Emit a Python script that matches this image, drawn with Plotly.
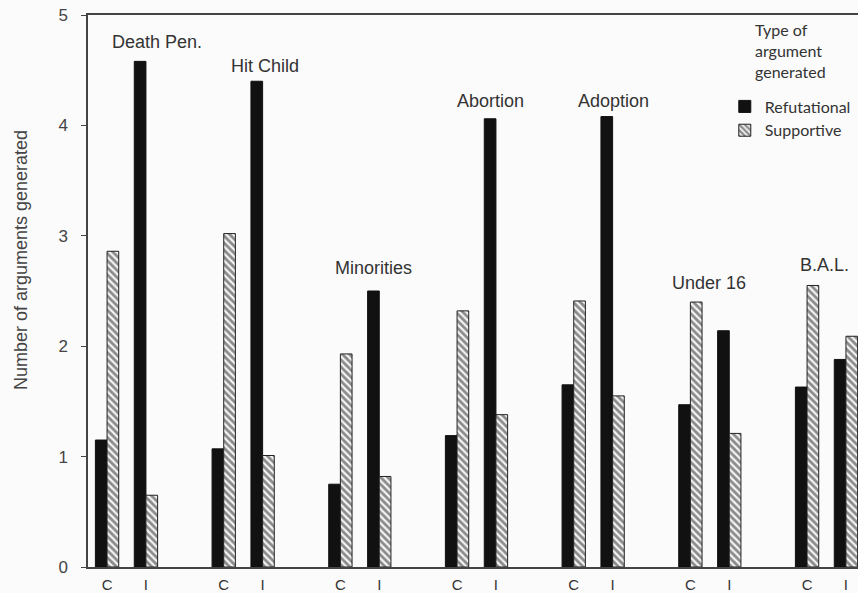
import plotly.graph_objects as go

topics = ["Death Pen.", "Hit Child", "Minorities", "Abortion", "Adoption", "Under 16", "B.A.L."]
conditions = ["C", "I"]

# values per topic: [C, I]
refutational = [
    [1.15, 4.58],
    [1.07, 4.40],
    [0.75, 2.50],
    [1.19, 4.06],
    [1.65, 4.08],
    [1.47, 2.14],
    [1.63, 1.88],
]
supportive = [
    [2.86, 0.65],
    [3.02, 1.01],
    [1.93, 0.82],
    [2.32, 1.38],
    [2.41, 1.55],
    [2.40, 1.21],
    [2.55, 2.09],
]

# topic label placement (x offset from the group's C position, y in data units)
label_dx = [1.29, 1.05, 0.85, 0.85, 1.03, 0.49, 0.46]
label_y = [4.76, 4.54, 2.71, 4.22, 4.22, 2.57, 2.74]

GROUP_STEP = 3
xs, ticktext, ref_vals, sup_vals = [], [], [], []
for g, t in enumerate(topics):
    for c, cond in enumerate(conditions):
        xs.append(g * GROUP_STEP + c)
        ticktext.append(cond)
        ref_vals.append(refutational[g][c])
        sup_vals.append(supportive[g][c])

font_main = "Liberation Sans, Arial, sans-serif"
font_leg = "Lato, Open Sans, sans-serif"
txt = "#333333"

fig = go.Figure()
fig.add_trace(go.Bar(
    x=xs, y=ref_vals, name="Refutational",
    marker=dict(color="#111111", line=dict(color="#111111", width=1)),
))
fig.add_trace(go.Bar(
    x=xs, y=sup_vals, name="Supportive",
    marker=dict(color="white", line=dict(color="#222222", width=1),
                pattern=dict(shape="\\", fgcolor="#222222", bgcolor="#f4f4f4",
                             size=5, solidity=0.55)),
))

for g, t in enumerate(topics):
    fig.add_annotation(x=g * GROUP_STEP + label_dx[g], y=label_y[g],
                       text=t, showarrow=False, xanchor="center", yanchor="middle",
                       font=dict(family=font_main, size=18, color=txt))

# y-axis title
fig.add_annotation(xref="paper", yref="paper", x=-0.087, y=0.556,
                   text="Number of arguments generated", textangle=-90,
                   showarrow=False, xanchor="center", yanchor="middle",
                   font=dict(family=font_main, size=18, color="#444444"))

# legend title
fig.add_annotation(xref="paper", yref="paper", x=0.8636, y=0.995,
                   text="Type of<br>argument<br>generated", align="left",
                   showarrow=False, xanchor="left", yanchor="top",
                   font=dict(family=font_leg, size=16, color=txt))

fig.update_layout(
    width=858, height=593,
    margin=dict(l=88, r=0, t=15, b=26),
    paper_bgcolor="#fbfbfb", plot_bgcolor="#fbfbfb",
    barmode="group", bargap=0.4, bargroupgap=0,
    font=dict(family=font_main, size=16, color=txt),
    showlegend=True,
    legend=dict(
        x=0.827, y=0.865, xanchor="left", yanchor="top",
        bgcolor="rgba(0,0,0,0)",
        font=dict(family=font_leg, size=16, color=txt),
        itemwidth=30,
    ),
    xaxis=dict(
        range=[-0.49, 19.31], tickmode="array", tickvals=xs, ticktext=ticktext,
        showline=True, linecolor="#444444", linewidth=1.5, mirror=True,
        showgrid=False, zeroline=False, ticks="", ticklabelstandoff=3,
        tickfont=dict(size=15, color=txt),
        automargin=False, fixedrange=True,
    ),
    yaxis=dict(
        range=[0, 5], tickvals=[0, 1, 2, 3, 4, 5],
        showline=True, linecolor="#444444", linewidth=1.5,
        showgrid=False, zeroline=False, ticks="outside", ticklen=5,
        tickcolor="#444444", ticklabelstandoff=10,
        tickfont=dict(size=17, color="#444444"),
        automargin=False, fixedrange=True,
    ),
    yaxis2=dict(
        range=[0, 5], tickvals=[0, 1, 2, 3, 4, 5], overlaying="y", side="left",
        showline=False, showgrid=False, zeroline=False, ticks="inside", ticklen=7,
        tickcolor="#444444", showticklabels=False, fixedrange=True,
    ),
)

fig.write_html("out.html", config={"displayModeBar": False},
               post_script="document.body.style.margin='0';")
